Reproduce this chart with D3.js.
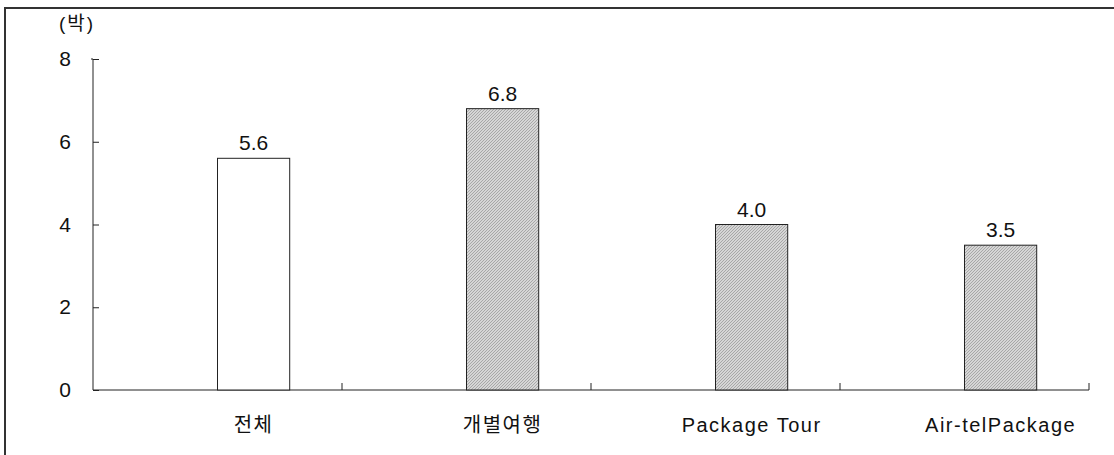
<!DOCTYPE html>
<html><head><meta charset="utf-8">
<script src="https://cdn.jsdelivr.net/npm/d3@7"></script>
<style>
html,body{margin:0;padding:0;background:#fff;}
svg{display:block;}
text{font-family:"Liberation Sans","Noto Sans CJK KR",sans-serif;fill:#111;}
</style></head>
<body><svg id="c" width="1114" height="455"></svg>
<script>
const categories = ["전체", "개별여행", "Package Tour", "Air-telPackage"];
const values = [5.6, 6.8, 4.0, 3.5];
const yTicks = [0, 2, 4, 6, 8];
const unitLabel = "(박)";

(function(){
const svg = d3.select("#c");
const W = 1114, H = 455;
const mLeft = 93, mRight = 1089, mTop = 59, mBottom = 390;

const defs = svg.append("defs");
const pat = defs.append("pattern").attr("id","hatch").attr("patternUnits","userSpaceOnUse")
  .attr("width",3).attr("height",3);
pat.append("rect").attr("width",3).attr("height",3).attr("fill","#d6d6d6");
pat.append("path").attr("d","M-1,1 L1,-1 M0,3 L3,0 M2,4 L4,2").attr("stroke","#a2a2a2").attr("stroke-width",0.9);

// outer frame
svg.append("rect").attr("x",5).attr("y",8).attr("width",W+10).attr("height",H+10)
  .attr("fill","none").attr("stroke","#333").attr("stroke-width",2);

const x = d3.scaleBand().domain(categories).range([mLeft,mRight]).padding(0);
const y = d3.scaleLinear().domain([0,8]).range([mBottom,mTop]);
const bw = x.bandwidth()*0.29;

// y axis
const yAxis = d3.axisLeft(y).tickValues(yTicks).tickSize(-6).tickPadding(22).tickFormat(d3.format("d"));
const gy = svg.append("g").attr("transform",`translate(${mLeft},0)`).call(yAxis);
gy.attr("font-family",null).attr("font-size",null);
gy.select(".domain").attr("d",`M${-2},${mTop}H0V${mBottom}`).attr("stroke","#222");
gy.selectAll(".tick line").attr("stroke","#222");
gy.selectAll(".tick text").attr("font-size",21).attr("fill","#111");

// x axis
const xAxis = d3.axisBottom(x).tickSize(0).tickFormat("");
const gx = svg.append("g").attr("transform",`translate(0,${mBottom})`).call(xAxis);
gx.select(".domain").attr("d",`M${mLeft},0H${mRight}`).attr("stroke","#222");
gx.selectAll(".tick").remove();
const bounds = categories.map(c => x(c) + x.bandwidth());
gx.selectAll("line.bt").data(bounds).join("line").attr("class","bt")
  .attr("x1",d=>d).attr("x2",d=>d).attr("y1",0).attr("y2",-7).attr("stroke","#222");

// bars
svg.selectAll("rect.bar").data(values).join("rect").attr("class","bar")
  .attr("x",(d,i)=>x(categories[i])+x.bandwidth()/2)
  .attr("y",d=>y(d)).attr("width",bw).attr("height",d=>mBottom-y(d))
  .attr("fill",(d,i)=> i===0 ? "#fff" : "url(#hatch)")
  .attr("stroke","#222").attr("stroke-width",1);

// value labels
svg.selectAll("text.val").data(values).join("text").attr("class","val")
  .attr("x",(d,i)=>x(categories[i])+x.bandwidth()/2+bw/2)
  .attr("y",d=>y(d)-8).attr("text-anchor","middle").attr("font-size",21)
  .text(d=>d.toFixed(1));

// category labels
svg.selectAll("text.cat").data(categories).join("text").attr("class","cat")
  .attr("x",d=>x(d)+x.bandwidth()/2+bw/2).attr("y",432)
  .attr("text-anchor","middle").attr("font-size",20).attr("letter-spacing","1.5px")
  .text(d=>d);

svg.append("text").attr("x",77).attr("y",30).attr("text-anchor","middle")
  .attr("font-size",19).attr("letter-spacing","2px").text(unitLabel);
})();
</script></body></html>
